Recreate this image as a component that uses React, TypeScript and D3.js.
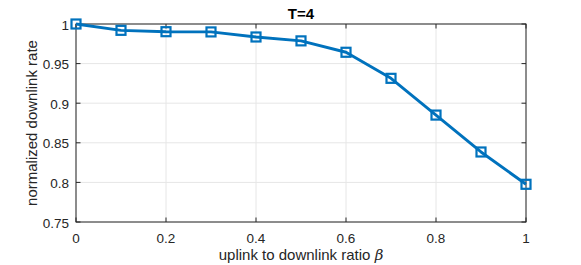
import React from "react";
import * as d3 from "d3";

const xValues = [0, 0.1, 0.2, 0.3, 0.4, 0.5, 0.6, 0.7, 0.8, 0.9, 1.0];
const yValues = [1.0, 0.992, 0.9903, 0.990, 0.9836, 0.9787, 0.9643, 0.9314, 0.885, 0.8384, 0.7976];
const xTicks = [0, 0.2, 0.4, 0.6, 0.8, 1];
const yTicks = [0.75, 0.8, 0.85, 0.9, 0.95, 1];
const title = "T=4";
const yLabel = "normalized downlink rate";

export default function App() {
  const W = 581, H = 265;
  const left = 76, right = 526, top = 24, bottom = 222;
  const x = d3.scaleLinear().domain([0, 1]).range([left, right]);
  const y = d3.scaleLinear().domain([0.75, 1]).range([bottom, top]);
  const line = d3.line<number>().x((_, i) => x(xValues[i])).y((d) => y(d));
  const font = "'Liberation Sans', Arial, Helvetica, sans-serif";
  const axisColor = "#262626";
  const blue = "#0072BD";
  const fmt = (v: number) => String(v);
  return (
    <svg width={W} height={H} style={{ position: "absolute", left: 0, top: 0, background: "#fff" }} fontFamily={font}>
      <rect x={0} y={0} width={W} height={H} fill="#fff" />
      {/* grid */}
      {xTicks.map((t) => (
        <line key={"gx" + t} x1={x(t)} x2={x(t)} y1={top} y2={bottom} stroke="#e6e6e6" strokeWidth={1} />
      ))}
      {yTicks.map((t) => (
        <line key={"gy" + t} x1={left} x2={right} y1={y(t)} y2={y(t)} stroke="#e6e6e6" strokeWidth={1} />
      ))}
      {/* box */}
      <rect x={left} y={top} width={right - left} height={bottom - top} fill="none" stroke={axisColor} strokeWidth={1} />
      {/* ticks */}
      {xTicks.map((t) => (
        <g key={"tx" + t}>
          <line x1={x(t)} x2={x(t)} y1={bottom} y2={bottom - 4.5} stroke={axisColor} />
          <line x1={x(t)} x2={x(t)} y1={top} y2={top + 4.5} stroke={axisColor} />
          <text x={x(t)} y={bottom + 20.5} textAnchor="middle" fontSize={13.5} fill={axisColor}>{fmt(t)}</text>
        </g>
      ))}
      {yTicks.map((t) => (
        <g key={"ty" + t}>
          <line x1={left} x2={left + 4.5} y1={y(t)} y2={y(t)} stroke={axisColor} />
          <line x1={right} x2={right - 4.5} y1={y(t)} y2={y(t)} stroke={axisColor} />
          <text x={left - 7} y={y(t) + 5.5} textAnchor="end" fontSize={13.5} fill={axisColor}>{fmt(t)}</text>
        </g>
      ))}
      {/* series */}
      <path d={line(yValues) || ""} fill="none" stroke={blue} strokeWidth={2.9} strokeLinejoin="round" />
      {yValues.map((v, i) => (
        <rect key={"m" + i} x={x(xValues[i]) - 4.5} y={y(v) - 4.5} width={9} height={9} fill="none" stroke={blue} strokeWidth={2.2} />
      ))}
      {/* labels */}
      <text x={(left + right) / 2} y={top - 5.5} textAnchor="middle" fontSize={15} fontWeight="bold" fill="#000">{title}</text>
      <text x={(left + right) / 2} y={bottom + 38} textAnchor="middle" fontSize={15} fill={axisColor}>
        uplink to downlink ratio <tspan fontStyle="italic" fontFamily="'DejaVu Serif', 'Liberation Serif', serif">β</tspan>
      </text>
      <text transform={`translate(${left - 39.5}, ${(top + bottom) / 2}) rotate(-90)`} textAnchor="middle" fontSize={15} fill={axisColor}>{yLabel}</text>
    </svg>
  );
}
